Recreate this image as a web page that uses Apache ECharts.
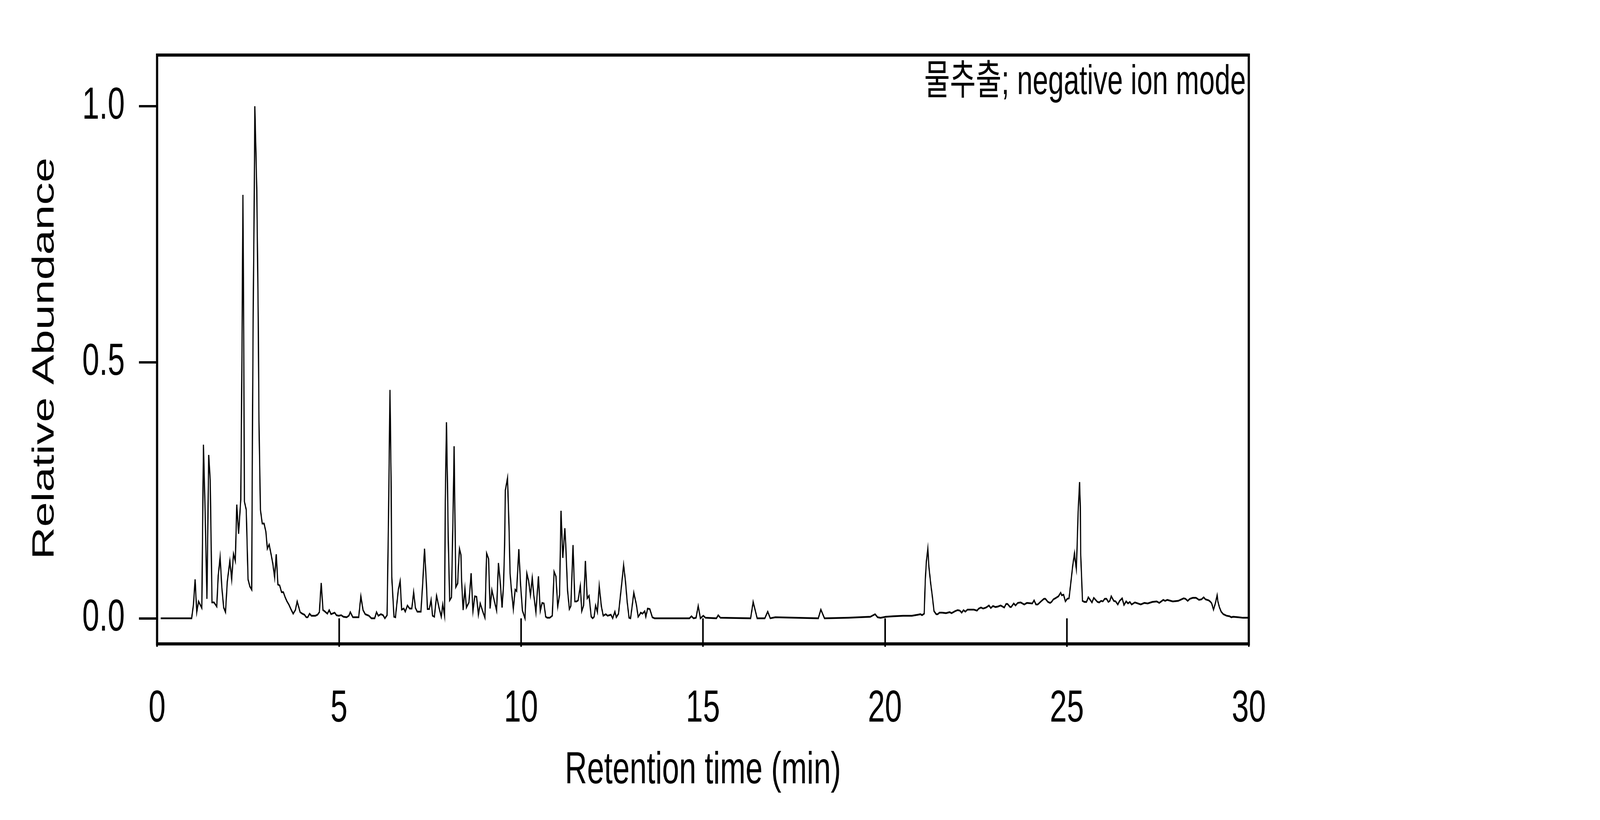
<!DOCTYPE html>
<html>
<head>
<meta charset="utf-8">
<title>Chromatogram</title>
<script src="https://cdn.jsdelivr.net/npm/echarts@6/dist/echarts.min.js"></script>
<style>
    html, body { margin: 0; padding: 0; background: #fff; overflow: hidden; }
    #chart { width: 6000px; height: 2100px; transform-origin: 0 0; }
</style>
</head>
<body>
<div id="chart"></div>
<script>
// axis ticks
var xTicks = [0, 5, 10, 15, 20, 25, 30];
var yTicks = [0, 0.5, 1.0];
var xTitle = 'Retention time (min)';
var yTitle = 'Relative Abundance';
var note = '물추출; negative ion mode';

// [retention time (min), relative abundance]
var early = [
    [0.1,0],[0.95,0],[1.0,0.027],[1.045,0.076],[1.09,0.012],[1.14,0.033],[1.23,0.02],[1.274,0.339],[1.32,0.21],[1.37,0.038],
    [1.419,0.319],[1.46,0.27],[1.51,0.031],[1.564,0.031],[1.64,0.023],[1.68,0.083],[1.732,0.119],[1.78,0.06],[1.83,0.021],[1.88,0.012],
    [1.93,0.072],[2.0,0.112],[2.05,0.076],[2.1,0.126],[2.15,0.112],[2.19,0.222],[2.24,0.165],[2.3,0.232],[2.32,0.4],[2.34,0.594],
    [2.359,0.827],[2.38,0.571],[2.4,0.228],[2.45,0.212],[2.5,0.076],[2.55,0.062],[2.6,0.056],[2.62,0.353],[2.64,0.588],[2.67,0.82],
    [2.686,1.0],[2.71,0.93],[2.74,0.836],[2.78,0.587],[2.8,0.384],[2.84,0.212],[2.89,0.185],[2.94,0.185],[2.99,0.169],[3.03,0.136],
    [3.08,0.144],[3.13,0.126],[3.18,0.107],[3.23,0.08],[3.275,0.125],[3.32,0.066],[3.37,0.064],[3.42,0.051],[3.47,0.051],[3.52,0.041],
    [3.57,0.033],[3.62,0.027],[3.69,0.016],[3.74,0.009],[3.8,0.016],[3.85,0.033],[3.9,0.02],[3.93,0.012],[3.99,0.009],[4.05,0.007],
    [4.1,0.002],[4.14,0.002],[4.19,0.009],[4.24,0.005],[4.35,0.005],[4.41,0.007],[4.46,0.012],[4.51,0.069],[4.56,0.016],[4.6,0.014],
    [4.68,0.009],[4.73,0.016],[4.78,0.008],[4.88,0.011],[4.93,0.006],[4.99,0.005],[5.06,0.006],[5.12,0.003],[5.21,0.002],[5.27,0.005],
    [5.31,0.012],[5.38,0.002],[5.54,0.002],[5.6,0.043],[5.66,0.016],[5.72,0.008],[5.82,0.005],[5.89,0],[5.98,0],[6.03,0.012],
    [6.08,0.005],[6.15,0.008],[6.21,0.006],[6.26,0],[6.32,0.006],[6.36,0.197],[6.4,0.446],[6.43,0.275],[6.45,0.08],[6.51,0.003],
    [6.55,0.002],[6.63,0.056],[6.68,0.073],[6.72,0.017],[6.78,0.019],[6.82,0.013],[6.88,0.025],[6.94,0.019],[7.0,0.019],[7.05,0.051],
    [7.1,0.02]
];
var middle = [
    [7.15,0.013],[7.25,0.013],[7.3,0.069],[7.349,0.136],[7.4,0.069],[7.43,0.018],[7.48,0.018],[7.53,0.036],[7.57,0.005],[7.62,0.003],
    [7.68,0.044],[7.75,0.02],[7.81,0.003],[7.85,0.027],[7.9,0.005],[7.92,0.229],[7.952,0.383],[7.98,0.265],[8.0,0.159],[8.04,0.035],
    [8.09,0.041],[8.12,0.155],[8.14,0.232],[8.162,0.336],[8.18,0.229],[8.21,0.061],[8.26,0.068],[8.28,0.1],[8.31,0.136],[8.35,0.124],
    [8.37,0.071],[8.41,0.016],[8.46,0.058],[8.5,0.021],[8.57,0.031],[8.63,0.088],[8.68,0.014],[8.73,0.043],[8.78,0.042],[8.83,0.007],
    [8.88,0.029],[8.96,0.011],[9.01,0.001],[9.055,0.127],[9.11,0.116],[9.15,0.019],[9.2,0.055],[9.27,0.033],[9.33,0.015],[9.38,0.108],
    [9.43,0.071],[9.48,0.021],[9.52,0.064],[9.55,0.143],[9.57,0.25],[9.63,0.274],[9.67,0.181],[9.7,0.088],[9.74,0.053],[9.79,0.018],
    [9.84,0.056],[9.88,0.053],[9.94,0.135],[9.99,0.064],[10.04,0.015],[10.11,0],[10.16,0.088],[10.21,0.073],[10.26,0.045],[10.31,0.079],
    [10.35,0.046],[10.41,0.012],[10.48,0.082],[10.53,0.014],[10.58,0.03],[10.63,0.029],[10.68,0.003],[10.72,0.001],[10.79,0.001],[10.86,0.005],
    [10.91,0.091],[10.96,0.082],[11.01,0.023],[11.06,0.046],[11.1,0.21],[11.15,0.118],[11.205,0.176],[11.23,0.144],[11.28,0.054],[11.33,0.018],
    [11.37,0.024],[11.43,0.143],[11.48,0.033],[11.53,0.033],[11.57,0.035],[11.63,0.063],[11.67,0.014],[11.72,0.025],[11.77,0.112],[11.82,0.039],
    [11.87,0.044],[11.93,0.003],[11.97,0],[12.01,0.003],[12.05,0.025],[12.1,0.012],[12.15,0.063],[12.21,0.023],[12.26,0.005],[12.33,0.008],
    [12.38,0.005],[12.47,0.007],[12.52,0],[12.58,0.013],[12.62,0.002],[12.68,0.009],[12.77,0.069],[12.82,0.104],[12.87,0.073],[12.92,0.031],
    [12.97,0.001],[13.01,0],[13.05,0.021],[13.1,0.05],[13.17,0.027],[13.22,0.003],[13.26,0.007],[13.29,0.011],[13.34,0.009],[13.4,0.014],
    [13.43,0.003],[13.48,0.019],[13.54,0.018],[13.61,0.002],[13.67,0],[14.63,0],[14.685,0.004],[14.74,0],[14.81,0.001],[14.87,0.024],
    [14.93,0],[15.01,0.005],[15.07,0.001],[15.37,0],[15.42,0.006],[15.48,0.001],[16.31,0],[16.38,0.032],[16.49,0],[16.7,0],
    [16.78,0.013],[16.85,0],[16.99,0.002],[18.17,0],[18.24,0.017],[18.34,0],[19.0,0.001],[19.6,0.003],[19.73,0.008],[19.8,0.002]
];
var late = [
    [19.88,0.001],[20.03,0.003],[20.23,0.004],[20.5,0.005],[20.74,0.005],[20.91,0.007],[20.98,0.008],[21.02,0.006],[21.08,0.009],[21.11,0.075],
    [21.14,0.111],[21.18,0.136],[21.21,0.1],[21.26,0.067],[21.3,0.045],[21.35,0.014],[21.41,0.008],[21.45,0.008],[21.5,0.011],[21.57,0.011],
    [21.68,0.01],[21.78,0.012],[21.83,0.01],[21.93,0.014],[22.0,0.016],[22.06,0.015],[22.11,0.011],[22.16,0.016],[22.21,0.013],[22.27,0.017],
    [22.32,0.017],[22.44,0.017],[22.53,0.015],[22.58,0.019],[22.64,0.021],[22.7,0.019],[22.78,0.021],[22.86,0.025],[22.91,0.02],[22.97,0.024],
    [23.04,0.022],[23.11,0.023],[23.18,0.025],[23.28,0.021],[23.33,0.028],[23.37,0.028],[23.44,0.022],[23.47,0.022],[23.54,0.029],[23.59,0.025],
    [23.65,0.03],[23.73,0.031],[23.83,0.027],[23.9,0.03],[24.05,0.029],[24.1,0.035],[24.15,0.027],[24.2,0.027],[24.29,0.033],[24.37,0.038],
    [24.41,0.038],[24.48,0.032],[24.54,0.03],[24.58,0.032],[24.63,0.037],[24.68,0.039],[24.77,0.043],[24.83,0.05],[24.86,0.045],[24.91,0.046],
    [24.96,0.033],[25.01,0.038],[25.06,0.039],[25.11,0.07],[25.16,0.102],[25.21,0.127],[25.23,0.113],[25.26,0.097],[25.28,0.136],[25.31,0.208],
    [25.35,0.266],[25.37,0.218],[25.38,0.126],[25.43,0.034],[25.48,0.032],[25.54,0.032],[25.59,0.041],[25.64,0.036],[25.69,0.031],[25.74,0.04],
    [25.79,0.036],[25.84,0.032],[25.89,0.031],[25.94,0.034],[25.99,0.033],[26.04,0.038],[26.09,0.038],[26.14,0.032],[26.18,0.034],[26.22,0.043],
    [26.29,0.034],[26.34,0.033],[26.4,0.027],[26.45,0.034],[26.52,0.039],[26.57,0.026],[26.63,0.033],[26.68,0.029],[26.73,0.032],[26.78,0.027],
    [26.87,0.031],[27.03,0.027],[27.13,0.03],[27.22,0.029],[27.35,0.032],[27.47,0.033],[27.54,0.03],[27.65,0.036],[27.7,0.034],[27.76,0.036],
    [27.91,0.033],[28.06,0.034],[28.21,0.039],[28.26,0.038],[28.32,0.034],[28.38,0.038],[28.46,0.04],[28.55,0.04],[28.63,0.036],[28.7,0.037],
    [28.76,0.041],[28.81,0.037],[28.9,0.035],[28.95,0.032],[28.98,0.029],[29.03,0.017],[29.08,0.029],[29.13,0.045],[29.15,0.033],[29.19,0.022],
    [29.24,0.013],[29.3,0.008],[29.39,0.005],[29.47,0.004],[29.52,0.002],[29.57,0.003],[29.71,0.002],[29.84,0.001],[30.0,0.001]
];

var chromatogram = early.concat(middle, late);
var font = "'Liberation Sans', Arial, 'Noto Sans CJK KR', sans-serif";

// the chart is laid out on a 6000x2100 page; fit it to whatever window we get
var box = document.getElementById('chart');
box.style.transform = 'scale(' + (window.innerWidth / 6000) + ',' + (window.innerHeight / 2100) + ')';

var myChart = echarts.init(box, null, {renderer: 'canvas', width: 6000, height: 2100});

var option = {
    backgroundColor: '#fff',
    animation: false,
    textStyle: {fontFamily: font, color: '#000'},
    grid: {
        left: 589,
        right: 1317,
        top: 141,
        bottom: 451,
        show: true,
        borderColor: '#000',
        borderWidth: 8,
        backgroundColor: 'transparent'
    },
    graphic: [
        {
            type: 'text',
            right: 1328,
            top: 160,
            z: 100,
            style: {
                text: note,
                font: '105px ' + font,
                fill: '#000'
            }
        }
    ],
    xAxis: {
        type: 'value',
        min: xTicks[0],
        max: xTicks[xTicks.length - 1],
        interval: 5,
        name: xTitle,
        nameLocation: 'middle',
        nameGap: 268,
        nameTextStyle: {fontSize: 115, color: '#000', fontFamily: font},
        axisLine: {show: false},
        axisTick: {show: true, inside: false, length: 73, lineStyle: {color: '#000', width: 6}},
        axisLabel: {fontSize: 115, color: '#000', margin: 110, fontFamily: font},
        splitLine: {show: false}
    },
    yAxis: {
        type: 'value',
        min: -0.05,
        max: 1.1,
        name: yTitle,
        nameLocation: 'middle',
        nameGap: 362,
        nameTextStyle: {fontSize: 115, color: '#000', fontFamily: font, padding: [0, 46, 0, 0]},
        axisLine: {show: false},
        axisTick: {show: true, inside: false, length: 68, customValues: yTicks, lineStyle: {color: '#000', width: 6}},
        axisLabel: {
            fontSize: 115, color: '#000', margin: 121, fontFamily: font,
            customValues: yTicks,
            padding: [0, 0, 20, 0],
            formatter: function (v) { return v.toFixed(1); }
        },
        splitLine: {show: false}
    },
    series: [
        {
            type: 'line',
            data: chromatogram,
            showSymbol: false,
            symbol: 'none',
            smooth: false,
            lineStyle: {color: '#000', width: 4.5, join: 'miter'},
            z: 3
        }
    ]
};
myChart.setOption(option);
</script>
</body>
</html>
